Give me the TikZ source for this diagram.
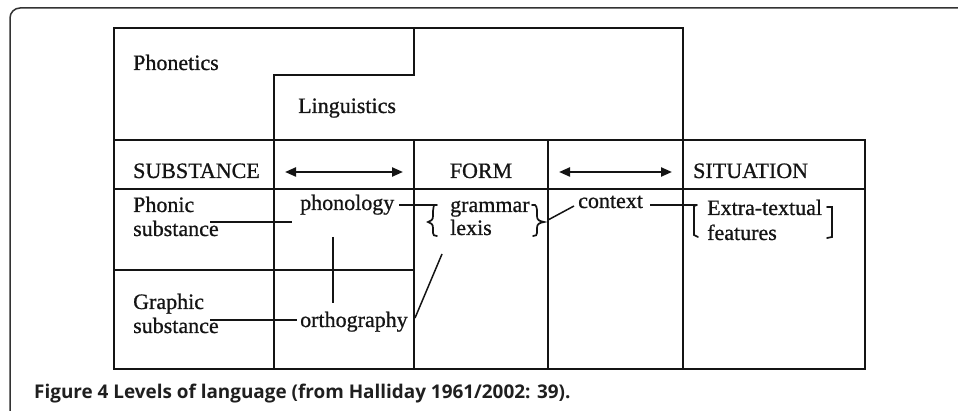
\documentclass[tikz,border=0pt]{standalone}
\usepackage{fontspec}
\setmainfont{Liberation Serif}
\newfontfamily\tabfont{Liberation Serif}[FakeBold=0.8]
\newfontfamily\capfont{Open Sans}
\usetikzlibrary{arrows.meta}
\newcommand\tabsize{\tabfont\fontsize{22}{26}\selectfont}

\tikzset{
  rule/.style={line width=2.2pt, draw=black!92, line cap=rect},
  frame/.style={line width=1.5pt, draw=black!80, rounded corners=10pt},
  lbl/.style={anchor=base west, inner sep=0pt, font=\tabsize, text=black!92},
  conn/.style={line width=1.5pt, draw=black!92},
  brace/.style={line width=1.7pt, draw=black!92, line cap=round},
  twoway/.style={line width=2.2pt, draw=black!92,
    {Triangle[length=11pt,width=9pt]}-{Triangle[length=11pt,width=9pt]}}
}

\begin{document}
\begin{tikzpicture}[x=1pt,y=-1pt]
\useasboundingbox (0,0) rectangle (958,411);

% outer panel frame
\draw[frame] (10,430) -- (10,8) -- (975,8);

% ---- table rules ----
% upper block: Phonetics / Linguistics
\draw[rule] (114,28) -- (683,28);
\draw[rule] (414,28) -- (414,75) -- (274,75);
% header and body rows
\draw[rule] (114,140) -- (865,140);
\draw[rule] (114,189) -- (865,189);
\draw[rule] (114,270) -- (414,270);
\draw[rule] (114,369) -- (865,369);
% columns
\draw[rule] (114,28) -- (114,369);
\draw[rule] (274,75) -- (274,369);
\draw[rule] (414,140) -- (414,369);
\draw[rule] (548,140) -- (548,369);
\draw[rule] (683,28) -- (683,369);
\draw[rule] (865,140) -- (865,369);

% ---- labels ----
\node[lbl] (phonetics) at (133,70) {Phonetics};
\node[lbl] (linguistics) at (298,113) {Linguistics};
\node[lbl] (substance) at (133,178) {SUBSTANCE};
\node[lbl, anchor=base] (form) at (481,178) {FORM};
\node[lbl] (situation) at (693,178) {SITUATION};

\node[lbl] (phonicA) at (133,212) {Phonic};
\node[lbl] (phonicB) at (133,236) {substance};
\node[lbl] (graphicA) at (133,309) {Graphic};
\node[lbl] (graphicB) at (133,333) {substance};

\node[lbl] (phonology) at (300,210) {phonology};
\node[lbl] (orthography) at (300,327) {orthography};

\node[lbl] (grammar) at (450,212) {grammar};
\node[lbl] (lexis) at (450,235) {lexis};
\node[lbl] (context) at (578,208) {context};
\node[lbl] (extra) at (707,215) {Extra-textual};
\node[lbl] (features) at (707,240) {features};

% ---- double arrows in the header row ----
\coordinate (arrAl) at (285,172);
\coordinate (arrAr) at (403,172);
\coordinate (arrBl) at (559,172);
\coordinate (arrBr) at (672,172);
\draw[twoway] (arrAl) -- (arrAr);
\draw[twoway] (arrBl) -- (arrBr);

% ---- brackets ----
% left brace before grammar/lexis
\coordinate (lbTop) at (434,205);
\draw[brace] (lbTop) .. controls (434,207) and (433,208) .. (433,211)
  -- (433,216) .. controls (433,220) and (431,221) .. (428,222)
  .. controls (431,223) and (433,224) .. (433,228)
  -- (433,233) .. controls (433,235) and (434,236) .. (437,236);
\draw[brace] (lbTop) -- (437,205);
% right brace after grammar/lexis
\coordinate (rbTip) at (544,222);
\draw[brace] (532,205) -- (535,205) .. controls (536,206) and (537,207) .. (537,210)
  -- (537,216) .. controls (537,220) and (539,221) .. (rbTip)
  .. controls (539,223) and (537,224) .. (537,228)
  -- (537,233) .. controls (537,235) and (536,236) .. (533,236);
% square bracket before Extra-textual
\coordinate (sbTop) at (697,205);
\draw[brace] (sbTop) -- (694,206) -- (694,235) -- (698,237);
% square bracket after Extra-textual
\draw[brace] (827,207) -- (832,207) -- (832,237) -- (827,238);

% ---- connecting lines ----
\coordinate (phonicEnd) at (210,222);
\coordinate (phonicTo) at (292,222);
\draw[conn] (phonicEnd) -- (phonicTo);

\coordinate (graphicEnd) at (210,320);
\coordinate (graphicTo) at (297,320);
\draw[conn] (graphicEnd) -- (graphicTo);

\coordinate (phonoOut) at (399,205);
\draw[conn] (phonoOut) -- (lbTop);

\coordinate (vTop) at (333,237);
\coordinate (vBot) at (333,303);
\draw[conn] (vTop) -- (vBot);

\coordinate (orthoOut) at (415,318);
\coordinate (diagTop) at (442,254);
\draw[conn] (orthoOut) -- (diagTop);

\coordinate (formOut) at (548,220);
\coordinate (ctxIn) at (574,206);
\draw[conn] (formOut) -- (ctxIn);

\coordinate (ctxOut) at (650,205);
\draw[conn] (ctxOut) -- (sbTop);

% ---- caption ----
\node[anchor=base west, inner sep=0pt, text=black!88,
      font=\capfont\bfseries\fontsize{18.9}{23}\selectfont] (caption) at (34,398)
  {Figure 4 Levels of language (from Halliday 1961/2002: 39).};
\end{tikzpicture}
\end{document}
